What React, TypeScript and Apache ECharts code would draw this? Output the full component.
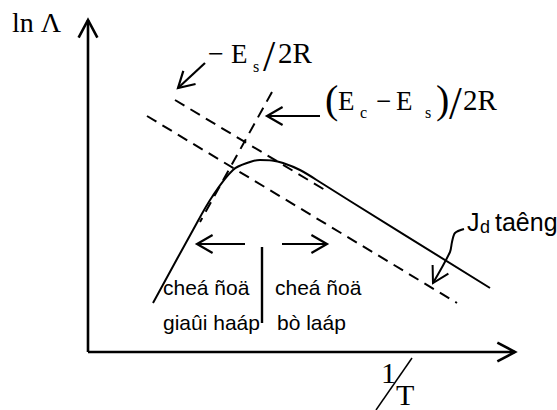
import React, { useEffect, useRef } from "react";
import * as echarts from "echarts";

type Pt = [number, number];

// Schematic plane: abscissa 1/T, ordinate ln Λ (arbitrary units)
const xAxisLine: Pt[] = [[0, 0], [42.7, 0]];
const yAxisLine: Pt[] = [[0, 0], [0, 33.2]];

// ln Λ against 1/T
const curve: Pt[] = [
  [6.5, 4.9], [10.5, 12.2], [12.4, 15.5], [14.5, 18.2], [16.2, 19.0],
  [17.2, 19.2], [18.4, 19.15], [19.5, 18.9], [21.2, 18.2], [23.5, 16.8],
  [26.2, 15.1], [40.2, 6.4],
];

// Asymptotes
const slopeEs: Pt[] = [[8.7, 25.2], [23.7, 16.2]];
const slopeEcEs: Pt[] = [[18.4, 26.0], [11.2, 13.0]];
const shiftedEs: Pt[] = [[5.9, 23.6], [36.9, 4.9]];

// Pointer arrows: the head sits on the last point
const arrowEs: Pt[] = [[11.7, 28.9], [9.0, 26.4]];
const arrowEcEs: Pt[] = [[23.2, 23.6], [17.9, 23.6]];
const arrowLeft: Pt[] = [[15.7, 10.8], [10.9, 10.8]];
const arrowRight: Pt[] = [[19.4, 10.8], [23.9, 10.8]];
const arrowJd: Pt[] = [[37.6, 12.3], [36.7, 11.9], [36.4, 11.0], [36.2, 10.0], [34.5, 6.9]];
const divider: Pt[] = [[17.4, 10.5], [17.4, 2.9]];
const fractionBar: Pt[] = [[32.4, -0.6], [28.8, -5.8]];

const SERIF = '"Liberation Serif", "Times New Roman", serif';
const SANS = '"Liberation Sans", Arial, sans-serif';

// Text labels: content, anchor (baseline-left, in plot units), size, family
const labels: { text: string; at: Pt; size: number; family: string }[] = [
  { text: "ln Λ", at: [-7.6, 32.0], size: 28, family: SERIF },
  { text: "−", at: [12.0, 28.9], size: 28, family: SERIF },
  { text: "E", at: [14.3, 28.9], size: 27, family: SERIF },
  { text: "s", at: [16.5, 28.0], size: 16, family: SERIF },
  { text: "/", at: [17.5, 28.1], size: 44, family: SERIF },
  { text: "2R", at: [19.0, 28.9], size: 29, family: SERIF },
  { text: "(", at: [23.7, 23.9], size: 40, family: SERIF },
  { text: "E", at: [25.0, 24.2], size: 27, family: SERIF },
  { text: "c", at: [27.2, 23.4], size: 16, family: SERIF },
  { text: "−", at: [28.8, 24.2], size: 27, family: SERIF },
  { text: "E", at: [30.8, 24.2], size: 27, family: SERIF },
  { text: "s", at: [33.7, 23.4], size: 16, family: SERIF },
  { text: ")", at: [34.8, 23.9], size: 40, family: SERIF },
  { text: "/", at: [36.1, 23.3], size: 46, family: SERIF },
  { text: "2R", at: [37.5, 24.2], size: 29, family: SERIF },
  { text: "1", at: [29.3, -3.1], size: 30, family: SERIF },
  { text: "T", at: [30.8, -5.3], size: 30, family: SERIF },
  { text: "cheá ñoä", at: [7.5, 5.7], size: 21, family: SANS },
  { text: "giaûi haáp", at: [7.5, 2.2], size: 21, family: SANS },
  { text: "cheá ñoä", at: [18.7, 5.7], size: 21, family: SANS },
  { text: "bò laáp", at: [18.9, 2.2], size: 21, family: SANS },
  { text: "J", at: [37.9, 12.2], size: 25, family: SANS },
  { text: "d", at: [39.2, 11.9], size: 18, family: SANS },
  { text: "taêng", at: [40.7, 12.2], size: 25, family: SANS },
];

// Open chevron head at the end of a path
function head(path: Pt[], len: number, deg = 30): Pt[] {
  const [tx, ty] = path[path.length - 1];
  const [px, py] = path[path.length - 2];
  const a = Math.atan2(py - ty, px - tx);
  const d = (deg * Math.PI) / 180;
  return [
    [tx + len * Math.cos(a + d), ty + len * Math.sin(a + d)],
    [tx, ty],
    [tx + len * Math.cos(a - d), ty + len * Math.sin(a - d)],
  ];
}

function line(data: Pt[], width: number, opts: any = {}) {
  return {
    type: "line",
    data,
    symbol: "none",
    silent: true,
    clip: false,
    smooth: opts.smooth ?? false,
    lineStyle: {
      color: "#000",
      width,
      type: opts.dash ?? "solid",
      cap: "butt",
      join: "miter",
    },
  };
}

export default function App() {
  const ref = useRef<HTMLDivElement>(null);

  useEffect(() => {
    if (!ref.current) return;
    const chart = echarts.init(ref.current, undefined, { renderer: "svg" });
    const dash = [11, 7];
    const arrows = [arrowEs, arrowEcEs, arrowLeft, arrowRight];

    chart.setOption({
      animation: false,
      backgroundColor: "#fff",
      grid: { left: 0, right: 0, top: 0, bottom: 0 },
      xAxis: { type: "value", min: -8.8, max: 46.9, show: false },
      yAxis: { type: "value", min: -5.8, max: 35.2, show: false },
      series: [
        line(xAxisLine, 2.6),
        line(yAxisLine, 2.6),
        line(head(xAxisLine, 2.0, 28), 2.6),
        line(head(yAxisLine, 2.0, 28), 2.6),
        line(curve, 2, { smooth: 0.35 }),
        line(slopeEs, 2, { dash }),
        line(slopeEcEs, 2, { dash }),
        line(shiftedEs, 2, { dash }),
        ...arrows.map((a) => line(a, 2.2)),
        ...arrows.map((a) => line(head(a, 1.8), 2.2)),
        line(arrowJd, 2, { smooth: 0.3 }),
        line(head(arrowJd, 1.8), 2),
        line(divider, 2.4),
        line(fractionBar, 1.5),
      ],
    });

    const graphic = labels.map((l) => {
      const [px, py] = chart.convertToPixel({ gridIndex: 0 }, l.at) as number[];
      return {
        type: "text",
        x: px,
        y: py - 0.34 * l.size,
        silent: true,
        style: {
          text: l.text,
          font: `${l.size}px ${l.family}`,
          fill: "#000",
          align: "left",
          verticalAlign: "middle",
        },
      };
    });
    chart.setOption({ graphic });

    return () => chart.dispose();
  }, []);

  return (
    <div
      ref={ref}
      style={{ position: "absolute", left: 0, top: 0, width: 557, height: 410 }}
    />
  );
}
